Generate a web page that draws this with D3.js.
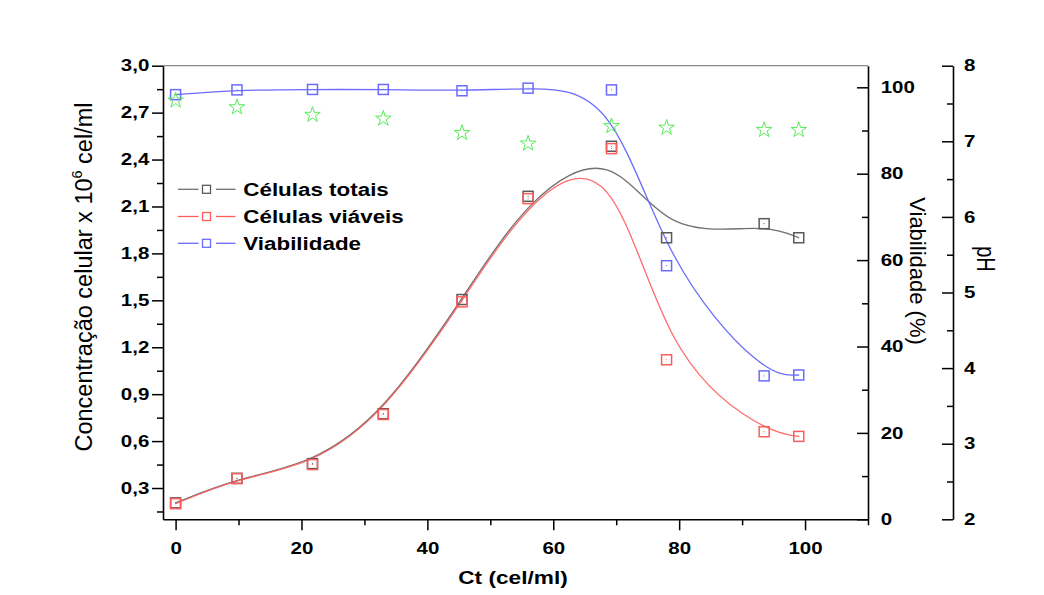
<!DOCTYPE html>
<html><head><meta charset="utf-8">
<script src="https://cdn.jsdelivr.net/npm/d3@7"></script>
<style>body{margin:0;background:#fff}svg{display:block}</style>
</head><body>
<svg id="c" width="1044" height="595"></svg>
<script>
// ---- data ----
const tempo = [0, 9.75, 21.75, 33, 45.5, 56, 69.25, 78, 93.5, 99];
const celulasTotais = [0.205, 0.362, 0.456, 0.775, 1.505, 2.165, 2.485, 1.90, 1.99, 1.90];
const celulasViaveis = [0.20, 0.36, 0.45, 0.77, 1.49, 2.15, 2.47, 1.12, 0.66, 0.63];
const viabilidade = [98.3, 99.4, 99.5, 99.5, 99.2, 99.8, 99.4, 58.7, 33.2, 33.4];
const phValores = [7.54, 7.45, 7.35, 7.30, 7.11, 6.97, 7.20, 7.18, 7.15, 7.15];

const xTicks = [0, 20, 40, 60, 80, 100];
const xMinor = [10, 30, 50, 70, 90, 110];
const yLeftTicks = [0.3, 0.6, 0.9, 1.2, 1.5, 1.8, 2.1, 2.4, 2.7, 3.0];
const yLeftMinor = [0.15, 0.45, 0.75, 1.05, 1.35, 1.65, 1.95, 2.25, 2.55, 2.85];
const viabTicks = [0, 20, 40, 60, 80, 100];
const viabMinor = [10, 30, 50, 70, 90];
const phTicks = [2, 3, 4, 5, 6, 7, 8];
const phMinor = [2.5, 3.5, 4.5, 5.5, 6.5, 7.5];
const legendLabels = ["Células totais", "Células viáveis", "Viabilidade"];

// ---- layout ----
const L = 163, R = 868, T = 65.7, B = 519.3;
const SX = 1.28; // horizontal stretch of text in the reference
const svg = d3.select("#c");
const x = d3.scaleLinear().domain([-2, 110]).range([L, R]);
const yL = d3.scaleLinear().domain([0.1, 3.0]).range([B, T]);
const yV = d3.scaleLinear().domain([0, 105]).range([B, T]);
const yP = d3.scaleLinear().domain([2, 8]).range([B, T]);

const colGray = "#5a5a5a", colGrayLine = "#707070";
const colRed = "#ff5c5c", colBlue = "#6b6bff", colGreen = "#55ec55";
const fmtComma = v => d3.format(".1f")(v).replace(".", ",");
const ff = "'Liberation Sans', Arial, sans-serif";

svg.append("rect").attr("width", 1044).attr("height", 595).attr("fill", "#fff");

// top frame
svg.append("line").attr("x1", L).attr("x2", R).attr("y1", T).attr("y2", T)
  .attr("stroke", "#8a8a8a").attr("stroke-width", 1.2);

function styleAxis(g) {
  g.selectAll(".domain").attr("stroke", "#000").attr("stroke-width", 1.6);
  g.selectAll(".tick line").attr("stroke", "#000").attr("stroke-width", 1.5);
  g.selectAll("text").attr("fill", "#000")
    .style("font-family", ff).style("font-weight", "bold").style("font-size", "16px");
}
function minorAxis(axis, tr) {
  svg.append("g").attr("transform", tr).call(axis)
    .call(g => { g.select(".domain").remove(); g.selectAll("line").attr("stroke", "#000").attr("stroke-width", 1.5); });
}

// bottom axis
const gx = svg.append("g").attr("transform", `translate(0,${B})`)
  .call(d3.axisBottom(x).tickValues(xTicks).tickFormat(d3.format("d")).tickSize(11).tickPadding(12).tickSizeOuter(0));
styleAxis(gx);
gx.selectAll("text").attr("transform", `scale(${SX},1)`);
minorAxis(d3.axisBottom(x).tickValues(xMinor).tickSize(6).tickFormat("").tickSizeOuter(0), `translate(0,${B})`);

// left axis
const gl = svg.append("g").attr("transform", `translate(${L},0)`)
  .call(d3.axisLeft(yL).tickValues(yLeftTicks).tickFormat(fmtComma).tickSize(11).tickPadding(2.7).tickSizeOuter(0));
styleAxis(gl);
gl.selectAll("text").attr("x", -13.7 / SX).attr("transform", `scale(${SX},1)`);
minorAxis(d3.axisLeft(yL).tickValues(yLeftMinor).tickSize(6).tickFormat("").tickSizeOuter(0), `translate(${L},0)`);

// right viability axis (ticks inward)
const gv = svg.append("g").attr("transform", `translate(${R},0)`)
  .call(d3.axisRight(yV).tickValues(viabTicks).tickFormat(d3.format("d")).tickSize(-11).tickPadding(12.7).tickSizeOuter(0));
styleAxis(gv);
gv.selectAll("text").attr("x", 12.7 / SX).attr("transform", `scale(${SX},1)`);
minorAxis(d3.axisRight(yV).tickValues(viabMinor).tickSize(-6).tickFormat("").tickSizeOuter(0), `translate(${R},0)`);

// pH axis
const PX = 953;
const gp = svg.append("g").attr("transform", `translate(${PX},0)`)
  .call(d3.axisRight(yP).tickValues(phTicks).tickFormat(d3.format("d")).tickSize(-11).tickPadding(11).tickSizeOuter(0));
styleAxis(gp);
gp.selectAll("text").attr("x", 11 / SX).attr("transform", `scale(${SX},1)`);
minorAxis(d3.axisRight(yP).tickValues(phMinor).tickSize(-6).tickFormat("").tickSizeOuter(0), `translate(${PX},0)`);

// ---- curves (B-spline through the points) ----
const lineL = d3.line().x((d, i) => x(tempo[i])).y(d => yL(d)).curve(d3.curveBasis);
const lineV = d3.line().x((d, i) => x(tempo[i])).y(d => yV(d)).curve(d3.curveBasis);
const curves = svg.append("g").attr("fill", "none").attr("stroke-width", 1.3);
curves.append("path").attr("d", lineL(celulasTotais)).attr("stroke", colGrayLine);
curves.append("path").attr("d", lineL(celulasViaveis)).attr("stroke", colRed).attr("stroke-opacity", 0.9);
curves.append("path").attr("d", lineV(viabilidade)).attr("stroke", colBlue);

// ---- markers ----
function squares(vals, yScale, col) {
  const g = svg.append("g");
  const s = 10;
  g.selectAll("rect").data(vals).join("rect")
    .attr("x", (d, i) => x(tempo[i]) - s / 2).attr("y", d => yScale(d) - s / 2)
    .attr("width", s).attr("height", s)
    .attr("fill", "none").attr("stroke", col).attr("stroke-width", 1.5);
  g.selectAll("circle").data(vals).join("circle")
    .attr("cx", (d, i) => x(tempo[i])).attr("cy", d => yScale(d)).attr("r", 0.6).attr("fill", col);
}
squares(celulasTotais, yL, colGray);
squares(celulasViaveis, yL, colRed);
squares(viabilidade, yV, colBlue);

const star = d3.symbol().type(d3.symbolStar).size(75);
svg.append("g").selectAll("path").data(phValores).join("path")
  .attr("transform", (d, i) => `translate(${x(tempo[i])},${yP(d)})`)
  .attr("d", star).attr("fill", "none").attr("stroke", colGreen).attr("stroke-width", 1);

// ---- legend ----
const legCols = [[colGrayLine, colGray], [colRed, colRed], [colBlue, colBlue]];
const legY = [189.3, 216.5, 243.3];
legendLabels.forEach((lab, i) => {
  const g = svg.append("g");
  const cy = legY[i];
  g.append("line").attr("x1", 178).attr("x2", 198.5).attr("y1", cy).attr("y2", cy)
    .attr("stroke", legCols[i][0]).attr("stroke-width", 1.3);
  g.append("line").attr("x1", 216).attr("x2", 235.5).attr("y1", cy).attr("y2", cy)
    .attr("stroke", legCols[i][0]).attr("stroke-width", 1.3);
  g.append("rect").attr("x", 202.5).attr("y", cy - 4).attr("width", 8).attr("height", 8)
    .attr("fill", "none").attr("stroke", legCols[i][1]).attr("stroke-width", 1.3);
  g.append("text").attr("transform", `translate(243.3,${cy + 6.3}) scale(${SX},1)`)
    .style("font-family", ff).style("font-weight", "bold").style("font-size", "17.5px")
    .attr("fill", "#000").text(lab);
});

// ---- axis titles ----
svg.append("text").attr("transform", `translate(513,583.5) scale(1.26,1)`)
  .attr("text-anchor", "middle").style("font-family", ff).style("font-weight", "bold")
  .style("font-size", "18px").text("Ct (cel/ml)");

const tl = svg.append("text").attr("transform", "translate(92,277) rotate(-90)")
  .attr("text-anchor", "middle").style("font-family", ff).style("font-size", "23.5px");
tl.append("tspan").text("Concentração celular x 10");
tl.append("tspan").attr("dy", -10).style("font-size", "14.5px").text("6");
tl.append("tspan").attr("dy", 10).text(" cel/ml");

svg.append("text").attr("transform", "translate(910,271) rotate(90)")
  .attr("text-anchor", "middle").style("font-family", ff).style("font-size", "22px")
  .text("Viabilidade (%)");

svg.append("text").attr("transform", "translate(977,259) scale(1.25,1) rotate(90)")
  .attr("text-anchor", "middle").style("font-family", ff).style("font-size", "20px")
  .text("pH");
</script>
</body></html>
